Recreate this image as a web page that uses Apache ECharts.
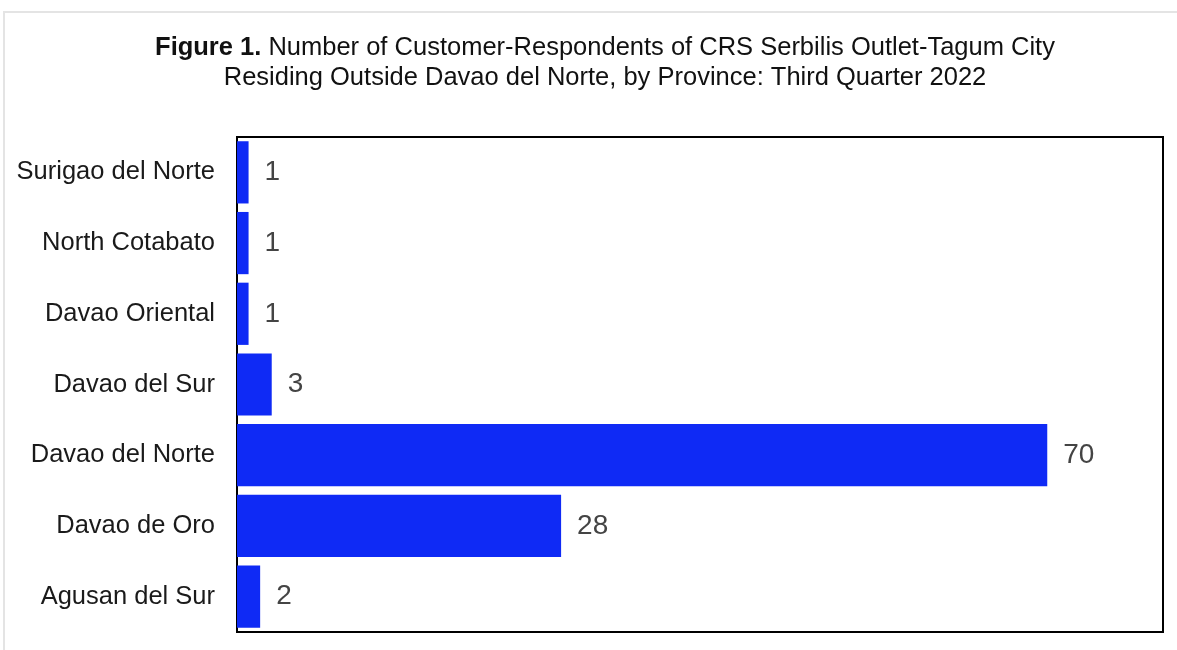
<!DOCTYPE html>
<html>
<head>
<meta charset="utf-8">
<script src="https://cdn.jsdelivr.net/npm/echarts@6/dist/echarts.min.js"></script>
<style>html,body{margin:0;padding:0;background:#fff}#c{width:1177px;height:650px}</style>
</head>
<body>
<div id="c"></div>
<script>
const categories = ['Surigao del Norte','North Cotabato','Davao Oriental','Davao del Sur','Davao del Norte','Davao de Oro','Agusan del Sur'];
const values = [1, 1, 1, 3, 70, 28, 2];
const titleLine1 = 'Number of Customer-Respondents of CRS Serbilis Outlet-Tagum City';
const titleBold = 'Figure 1.';
const titleLine2 = 'Residing Outside Davao del Norte, by Province: Third Quarter 2022';

const chart = echarts.init(document.getElementById('c'));
const font = '"Liberation Sans", Arial, sans-serif';
chart.setOption({
  animation: false,
  backgroundColor: '#fff',
  graphic: [
    { type: 'rect', shape: { x: 4, y: 12, width: 1200, height: 700 }, style: { fill: 'none', stroke: '#e4e4e4', lineWidth: 2 }, silent: true },
    { type: 'text', x: 605, y: 33, style: {
      text: '{b|' + titleBold + '} ' + titleLine1 + '\n' + titleLine2,
      align: 'center', verticalAlign: 'top', fontFamily: font, fontSize: 25.5, lineHeight: 30, fill: '#111',
      rich: { b: { fontWeight: 'bold', fontFamily: font, fontSize: 25.5, lineHeight: 30, fill: '#111' } }
    } }
  ],
  grid: { left: 237, right: 14, top: 137, bottom: 18, show: true, borderColor: '#000', borderWidth: 2, containLabel: false },
  xAxis: { type: 'value', min: 0, max: 80, show: false, splitLine: { show: false } },
  yAxis: {
    type: 'category', data: categories, inverse: true,
    axisLine: { show: false }, axisTick: { show: false },
    axisLabel: { color: '#1a1a1a', fontSize: 25.5, fontFamily: font, margin: 22 }
  },
  series: [{
    type: 'bar', data: values, barCategoryGap: '12%',
    itemStyle: { color: '#0f2af5' },
    label: { show: true, position: 'right', distance: 16, color: '#444', fontSize: 28, fontFamily: font }
  }]
});
</script>
</body>
</html>
